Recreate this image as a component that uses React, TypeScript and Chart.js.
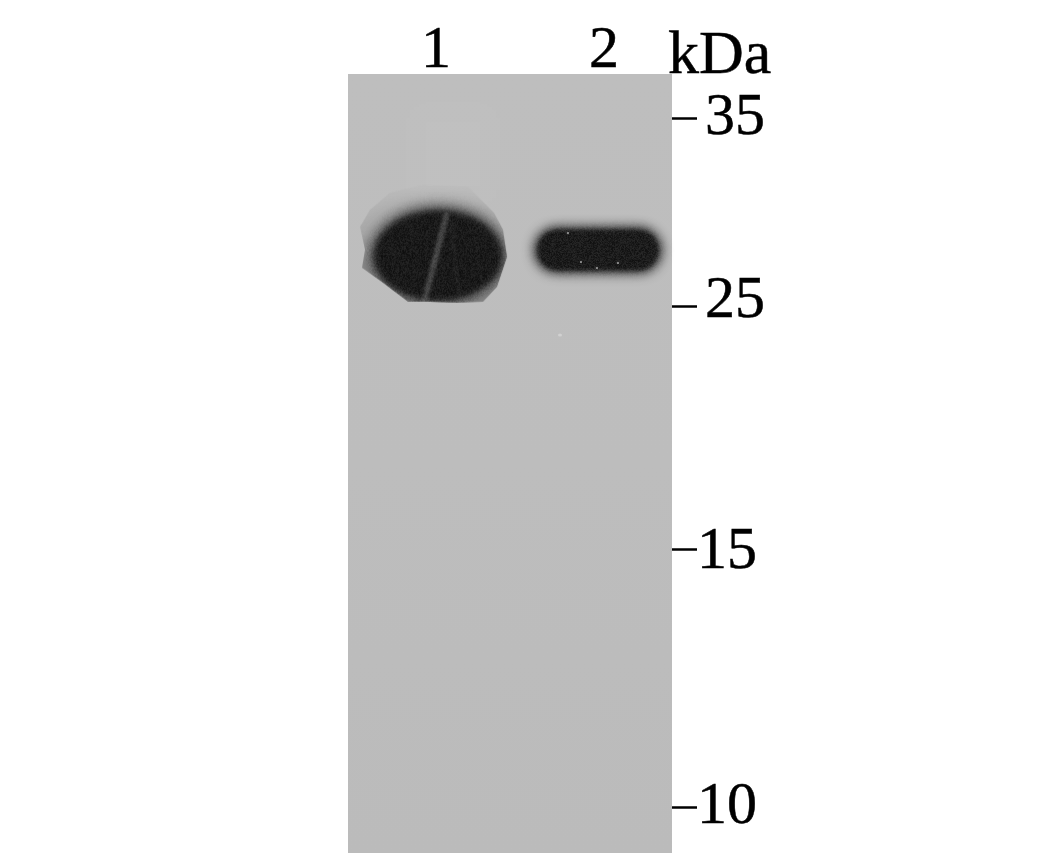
import { useEffect, useRef } from 'react';
import { Chart, registerables } from 'chart.js';

Chart.register(...registerables);

// lanes across the membrane
const laneValues = [1, 2];
const laneLabels = ['1', '2'];

// ladder: kDa and how far down the membrane each one ran (0 = top, 1 = bottom)
const kdaMarkers = [35, 25, 15, 10];
const markerMigration = [0.0565, 0.298, 0.611, 0.941];

// the two bands
const bandLanes = [1.012, 1.964];
const bandMigration = [0.232, 0.226];

const SERIF = '"Liberation Serif", serif';

// the ladder labels were placed by hand in the original figure
const labelNudge = [[0, 0], [0, -5], [-8, 2], [-8, 0]];

// pixel grain on the dark part of a band
function addGrain(canvas: HTMLCanvasElement) {
    const ctx = canvas.getContext('2d')!;
    const img = ctx.getImageData(0, 0, canvas.width, canvas.height);
    for (let y = 0; y < canvas.height; y++) {
        for (let x = 0; x < canvas.width; x++) {
            const i = (y * canvas.width + x) * 4;
            if (img.data[i + 3] === 0 || img.data[i] > 90) continue;
            const h = Math.sin(x * 12.9898 + y * 78.233) * 43758.5453;
            const n = (h - Math.floor(h) - 0.5) * 26;
            img.data[i] += n;
            img.data[i + 1] += n;
            img.data[i + 2] += n;
        }
    }
    ctx.putImageData(img, 0, 0);
}

// big overloaded band with its scalloped halo and the scratch through it
function makeBand1() {
    const c = document.createElement('canvas');
    c.width = 176;
    c.height = 150;
    const ctx = c.getContext('2d')!;
    ctx.translate(88, 75);
    const halo = [[-78, -28], [-68, -45], [-48, -62], [-15, -70], [30, -68], [56, -42], [65, -25], [69, 2], [59, 32], [45, 47], [19, 48], [-8, 47], [-30, 47], [-55, 28], [-76, 13], [-73, -5]];
    ctx.beginPath();
    halo.forEach(([x, y], i) => (i ? ctx.lineTo(x, y) : ctx.moveTo(x, y)));
    ctx.closePath();
    ctx.clip();
    const g = ctx.createLinearGradient(0, -70, 0, 10);
    g.addColorStop(0, 'rgba(120,120,120,0.02)');
    g.addColorStop(0.6, 'rgba(120,120,120,0.3)');
    g.addColorStop(1, 'rgba(115,115,115,0.65)');
    ctx.fillStyle = g;
    ctx.fillRect(-88, -75, 176, 150);
    ctx.filter = 'blur(8px)';
    ctx.fillStyle = '#1a1a1a';
    ctx.beginPath();
    ctx.ellipse(0, 0, 66, 47, 0, 0, Math.PI * 2);
    ctx.fill();
    ctx.filter = 'blur(3px)';
    ctx.beginPath();
    ctx.ellipse(0, 1, 63, 44, 0, 0, Math.PI * 2);
    ctx.fill();
    ctx.filter = 'blur(1.5px)';
    ctx.strokeStyle = 'rgba(105,105,105,0.55)';
    ctx.lineWidth = 6;
    ctx.beginPath();
    ctx.moveTo(9, -42);
    ctx.lineTo(-14, 48);
    ctx.stroke();
    ctx.strokeStyle = 'rgba(90,90,90,0.35)';
    ctx.lineWidth = 1.5;
    ctx.beginPath();
    ctx.moveTo(12, -35);
    ctx.lineTo(22, 46);
    ctx.stroke();
    ctx.filter = 'none';
    addGrain(c);
    return c;
}

// narrower pill shaped band with a few pale specks
function makeBand2() {
    const c = document.createElement('canvas');
    c.width = 170;
    c.height = 90;
    const ctx = c.getContext('2d')!;
    ctx.translate(85, 45);
    ctx.filter = 'blur(6px)';
    ctx.fillStyle = '#1c1c1c';
    ctx.beginPath();
    ctx.roundRect(-64, -23, 128, 46, 23);
    ctx.fill();
    ctx.filter = 'blur(2px)';
    ctx.beginPath();
    ctx.roundRect(-60, -20, 120, 40, 20);
    ctx.fill();
    ctx.filter = 'none';
    addGrain(c);
    ctx.fillStyle = '#8a8a8a';
    [[-18, 11], [-2, 17], [19, 12], [-31, -18]].forEach(([x, y]) => ctx.fillRect(x, y, 2, 2));
    return c;
}

// grey membrane with its faint washes
const membrane = {
    id: 'membrane',
    beforeDatasetsDraw(chart: Chart) {
        const { ctx, chartArea: a } = chart;
        ctx.save();
        const g = ctx.createLinearGradient(0, a.top, 0, a.bottom);
        g.addColorStop(0, '#bebebe');
        g.addColorStop(0.5, '#bdbdbd');
        g.addColorStop(1, '#bbbbbb');
        ctx.fillStyle = g;
        ctx.fillRect(a.left, a.top, a.width, a.height);
        ctx.beginPath();
        ctx.rect(a.left, a.top, a.width, a.height);
        ctx.clip();
        ctx.filter = 'blur(12px)';
        ctx.fillStyle = 'rgba(255,255,255,0.03)';
        ctx.fillRect(a.left + 60, a.top + 30, 90, 100);
        ctx.filter = 'none';
        ctx.fillStyle = 'rgba(255,255,255,0.3)';
        ctx.beginPath();
        ctx.ellipse(a.left + 212, a.top + 261, 2, 1.5, 0, 0, Math.PI * 2);
        ctx.fill();
        ctx.restore();
    },
};

const unitLabel = {
    id: 'unitLabel',
    afterDraw(chart: Chart) {
        const { ctx, chartArea: a } = chart;
        ctx.save();
        ctx.font = `62px ${SERIF}`;
        ctx.fillStyle = '#000';
        ctx.strokeStyle = '#000';
        ctx.lineWidth = 0.5;
        ctx.textAlign = 'left';
        ctx.textBaseline = 'alphabetic';
        ctx.fillText('kDa', a.right - 4, 73);
        ctx.strokeText('kDa', a.right - 4, 73);
        ctx.restore();
    },
};

const nudgeLabels = {
    id: 'nudgeLabels',
    beforeDraw(chart: Chart) {
        const s: any = chart.scales.y;
        s.getLabelItems().forEach((item: any, i: number) => {
            if (item.nudged) return;
            item.nudged = true;
            item.options.translation = [
                item.options.translation[0] + labelNudge[i][0],
                item.options.translation[1] + labelNudge[i][1],
            ];
        });
    },
};

export default function App() {
    const canvasRef = useRef<HTMLCanvasElement | null>(null);

    useEffect(() => {
        if (!canvasRef.current) return;
        document.body.style.margin = '0';
        const chart = new Chart(canvasRef.current, {
            type: 'scatter',
            data: {
                datasets: [
                    {
                        data: bandLanes.map((x, i) => ({ x, y: bandMigration[i] })),
                        pointStyle: [makeBand1(), makeBand2()],
                        clip: false,
                    },
                ],
            },
            options: {
                responsive: false,
                animation: false,
                layout: { padding: { left: 348, bottom: 11 } },
                plugins: { legend: { display: false }, tooltip: { enabled: false } },
                scales: {
                    x: {
                        position: 'top',
                        min: 0.476,
                        max: 2.405,
                        afterBuildTicks: (s: any) => {
                            s.ticks = laneValues.map((value) => ({ value }));
                        },
                        afterFit: (s: any) => {
                            s.height = 74;
                            s.paddingLeft = 0;
                            s.paddingRight = 0;
                        },
                        grid: { display: false },
                        border: { display: false },
                        ticks: {
                            color: '#000',
                            font: { family: SERIF, size: 60 },
                            textStrokeColor: '#000',
                            textStrokeWidth: 0.5,
                            padding: -21,
                            autoSkip: false,
                            maxRotation: 0,
                            callback: (v: any) => laneLabels[laneValues.indexOf(v)],
                        },
                    },
                    y: {
                        position: 'right',
                        reverse: true,
                        min: 0,
                        max: 1,
                        afterBuildTicks: (s: any) => {
                            s.ticks = markerMigration.map((value) => ({ value }));
                        },
                        afterFit: (s: any) => {
                            s.width = 375;
                            s.paddingTop = 0;
                            s.paddingBottom = 0;
                        },
                        grid: { drawOnChartArea: false, tickLength: 25, tickColor: '#000', tickWidth: 2.5 },
                        border: { display: false },
                        ticks: {
                            color: '#000',
                            font: { family: SERIF, size: 60 },
                            textStrokeColor: '#000',
                            textStrokeWidth: 0.5,
                            padding: 8,
                            autoSkip: false,
                            callback: (v: any) => String(kdaMarkers[markerMigration.indexOf(v)]),
                        },
                    },
                },
            },
            plugins: [membrane, unitLabel, nudgeLabels],
        });
        return () => chart.destroy();
    }, []);

    return <canvas ref={canvasRef} width={1047} height={864} style={{ display: 'block' }} />;
}
